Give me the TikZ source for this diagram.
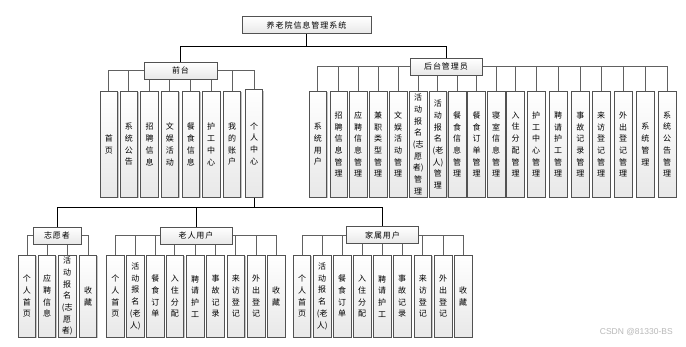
\documentclass[tikz,border=0pt]{standalone}
\usepackage{fontspec}
\newfontfamily\cjk{Noto Sans CJK SC}
\newfontfamily\wmfont{Liberation Sans}
\usetikzlibrary{shadows}
\pgfdeclarelayer{background}
\pgfdeclarelayer{canvas}
\pgfsetlayers{canvas,background,main}
\begin{document}
\begin{tikzpicture}[x=1pt,y=-1pt,
  boxstyle/.style={draw=black!68, line width=0.8pt, top color=white, bottom color=black!9,
     inner sep=0pt, drop shadow={shadow xshift=0.9pt,shadow yshift=-0.9pt,fill=black!45}},
  hbox/.style={boxstyle, minimum height=17pt,
     font=\cjk\fontsize{8}{10}\selectfont\addfontfeature{LetterSpace=12}},
  vbtop/.style={boxstyle, anchor=north, minimum width=17.5pt, minimum height=106pt, align=center,
     font=\cjk\fontsize{8}{11.7}\selectfont},
  vblow/.style={boxstyle, anchor=north, minimum width=17.5pt, minimum height=81.7pt, align=center,
     font=\cjk\fontsize{8}{11.7}\selectfont},
  conn/.style={draw=black, line width=0.8pt},
  branch/.style={draw=black!62, line width=1pt}]
\begin{pgfonlayer}{canvas}
\fill[white] (0,0) rectangle (686,346);
\end{pgfonlayer}
\useasboundingbox (0,0) rectangle (686,346);

% top level
\node[hbox, minimum width=129pt] (root) at (306.5,25) {养老院信息管理系统};
\node[hbox, minimum width=73pt] (ft) at (180.5,70.5) {前台};
\node[hbox, minimum width=72pt] (bt) at (446,66.7) {后台管理员};
\coordinate (rj) at (306.5,46);

% front children
\foreach \i/\x/\t in {1/108.9/{首\\页},2/128.9/{系\\统\\公\\告},3/149.5/{招\\聘\\信\\息},
  4/169.9/{文\\娱\\活\\动},5/190.9/{餐\\食\\信\\息},6/211.2/{护\\工\\中\\心},7/232/{我\\的\\账\\户}}
  \node[vbtop] (f\i) at (\x,91) {\t};
\node[vbtop, minimum height=107.5pt] (f8) at (254,89.3) {个\\人\\中\\心};

% back children
\foreach \i/\x/\t in {1/317.9/{系\\统\\用\\户},2/338.7/{招\\聘\\信\\息\\管\\理},3/358.2/{应\\聘\\信\\息\\管\\理},
  4/378.2/{兼\\职\\类\\型\\管\\理},5/398.2/{文\\娱\\活\\动\\管\\理},6/418.2/{活\\动\\报\\名\\(志\\愿\\者)\\管\\理},
  7/437.9/{活\\动\\报\\名\\(老\\人)\\管\\理},8/457.2/{餐\\食\\信\\息\\管\\理},9/476.5/{餐\\食\\订\\单\\管\\理},
  10/496.2/{寝\\室\\信\\息\\管\\理},11/515.5/{入\\住\\分\\配\\管\\理},12/536.2/{护\\工\\中\\心\\管\\理},
  13/558.2/{聘\\请\\护\\工\\管\\理},14/580.4/{事\\故\\记\\录\\管\\理},15/601.2/{来\\访\\登\\记\\管\\理},
  16/623.2/{外\\出\\登\\记\\管\\理},17/645.4/{系\\统\\管\\理},18/667.2/{系\\统\\公\\告\\管\\理}}
  \node[vbtop] (b\i) at (\x,91) {\t};

% personal centre level
\coordinate (pj) at (254,207.3);
\node[hbox, minimum width=48pt] (vt) at (57,235.5) {志愿者};
\node[hbox, minimum width=72pt] (ot) at (196,235.5) {老人用户};
\node[hbox, minimum width=71.5pt] (jt) at (382.5,235) {家属用户};

\foreach \i/\x/\t in {1/27/{个\\人\\首\\页},2/47/{应\\聘\\信\\息},3/67.2/{活\\动\\报\\名\\(志\\愿\\者)},4/88/{收\\藏}}
  \node[vblow] (v\i) at (\x,255) {\t};
\foreach \i/\x/\t in {1/115.3/{个\\人\\首\\页},2/135.3/{活\\动\\报\\名\\(老\\人)},3/155.3/{餐\\食\\订\\单},
  4/174.9/{入\\住\\分\\配},5/195.2/{聘\\请\\护\\工},6/215.5/{事\\故\\记\\录},7/235.9/{来\\访\\登\\记},
  8/256.2/{外\\出\\登\\记},9/276.2/{收\\藏}}
  \node[vblow] (o\i) at (\x,255) {\t};
\foreach \i/\x/\t in {1/302/{个\\人\\首\\页},2/322.2/{活\\动\\报\\名\\(老\\人)},3/342.2/{餐\\食\\订\\单},
  4/362.2/{入\\住\\分\\配},5/382.2/{聘\\请\\护\\工},6/402.2/{事\\故\\记\\录},7/422.9/{来\\访\\登\\记},
  8/443.2/{外\\出\\登\\记},9/463.2/{收\\藏}}
  \node[vblow] (j\i) at (\x,255) {\t};

\node[font=\wmfont\fontsize{8.5}{10}\selectfont, text=black!28, anchor=east, inner sep=0pt] (wm) at (673,332) {CSDN @81330-BS};

\begin{pgfonlayer}{background}
  \draw[conn] (root.south) -- (rj);
  \draw[conn] (rj) -| (ft.north);
  \draw[conn] (rj) -| (bt.north);
  \foreach \i in {1,...,8} \draw[branch] (ft.center) -| (f\i.north);
  \foreach \i in {1,...,18} \draw[branch] (bt.center) -| (b\i.north);
  \draw[conn] (f8.south) -- (pj);
  \draw[conn] (pj) -| (vt.north);
  \draw[conn] (pj) -| (ot.north);
  \draw[conn] (pj) -| (jt.north);
  \foreach \i in {1,...,4} \draw[branch] (vt.center) -| (v\i.north);
  \foreach \i in {1,...,9} \draw[branch] (ot.center) -| (o\i.north);
  \foreach \i in {1,...,9} \draw[branch] (jt.center) -| (j\i.north);
\end{pgfonlayer}
\end{tikzpicture}
\end{document}
